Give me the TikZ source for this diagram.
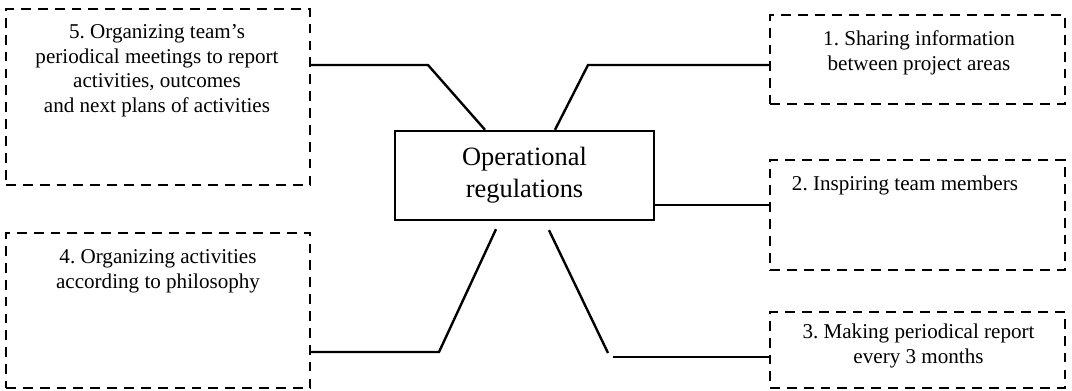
\documentclass[tikz,border=0pt]{standalone}
\usepackage{fontspec}
\setmainfont{Liberation Serif}
\usepackage{tikz}
\usetikzlibrary{calc}
\frenchspacing

\begin{document}
\begin{tikzpicture}[x=0.025cm, y=-0.025cm, line width=1.7pt,
	areabox/.style={draw, dash pattern=on 7pt off 5pt, inner sep=0pt, minimum width=#1},
	areatext/.style={anchor=base, align=center, inner sep=0pt, font=\fontsize{15}{17.4}\selectfont},
	hubbox/.style={draw, inner sep=0pt, minimum width=6.475cm, minimum height=2.225cm, align=center, font=\fontsize{18.8}{22.6}\selectfont}]
	\useasboundingbox (0,0) rectangle (1072,390);
	
	\node[hubbox] (hub) at (524.5,175.5) {Operational\\regulations};
	
	\node[areabox=7.375cm, minimum height=2.225cm] (b1) at (917.5,59.5) {};
	\node[areabox=7.375cm, minimum height=2.75cm] (b2) at (917.5,215) {};
	\node[areabox=7.375cm, minimum height=1.9cm] (b3) at (917.5,350) {};
	\node[areabox=7.6cm, minimum height=3.875cm] (b4) at (158,310.5) {};
	\node[areabox=7.6cm, minimum height=4.4cm] (b5) at (158,97) {};
	
	% base anchor sits on the last line
	\node[areatext] (t1) at (919,70) {1. Sharing information\\between project areas};
	\node[areatext] (t2) at (905,190) {2. Inspiring team members};
	\node[areatext] (t3) at (918.5,363) {3. Making periodical report\\every 3 months};
	\node[areatext] (t4) at (158,288) {4. Organizing activities\\according to philosophy};
	\node[areatext] (t5) at (157,112) {5. Organizing team's\\periodical meetings to report\\activities, outcomes\\and next plans of activities};
	
	\draw (b1.west |- 0,65) -- (588,65) -- (hub.north -| 555,0);
	\draw (hub.east |- 0,205) -- (b2.west |- 0,205);
	\draw ($(hub.south -| 549,0)+(0,9)$) -- (608,353);
	\draw (613,357) -- (b3.west |- 0,357);
	\draw (b4.east |- 0,352) -- (439,352) -- ($(hub.south -| 496,0)+(0,8)$);
	\draw (b5.east |- 0,65) -- (428,65) -- (hub.north -| 485,0);
	
\end{tikzpicture}
\end{document}
